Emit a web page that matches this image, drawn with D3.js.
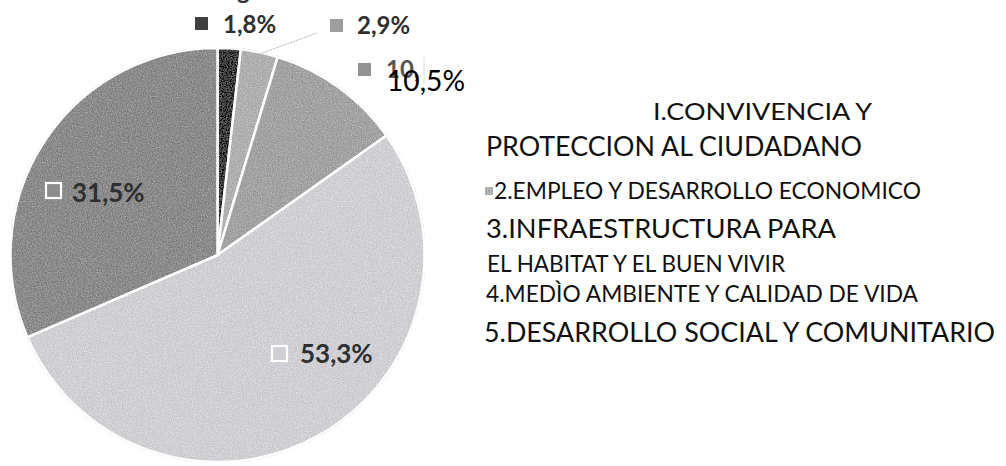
<!DOCTYPE html>
<html>
<head>
<meta charset="utf-8">
<script src="https://cdn.jsdelivr.net/npm/d3@7"></script>
<style>
  html, body { margin: 0; padding: 0; background: #fff; }
  svg { display: block; }
</style>
</head>
<body>
<svg id="chart" width="1006" height="466"></svg>
<script>
// Programme areas, in slice order (clockwise from 12 o'clock)
const categories = [
  "I.CONVIVENCIA Y PROTECCION AL CIUDADANO",
  "2.EMPLEO Y DESARROLLO ECONOMICO",
  "3.INFRAESTRUCTURA PARA EL HABITAT Y EL BUEN VIVIR",
  "4.MEDÌO AMBIENTE Y CALIDAD DE VIDA",
  "5.DESARROLLO SOCIAL Y COMUNITARIO"
];
// Share of the budget, in percent
const values = [1.8, 2.9, 10.5, 53.3, 31.5];
// Legend text, as it is broken into lines
const legendLines = [
  "I.CONVIVENCIA Y",
  "PROTECCION AL CIUDADANO",
  "2.EMPLEO Y DESARROLLO ECONOMICO",
  "3.INFRAESTRUCTURA PARA",
  "EL HABITAT Y EL BUEN VIVIR",
  "4.MEDÌO AMBIENTE Y CALIDAD DE VIDA",
  "5.DESARROLLO SOCIAL Y COMUNITARIO"
];

const svg = d3.select("#chart");

const fills = ["#404040", "#b0b0b0", "#a3a3a3", "#d0d0d4", "#8c8c8c"];
const color = d3.scaleOrdinal().domain(categories).range(fills);

const esLocale = d3.formatLocale({ decimal: ",", thousands: ".", grouping: [3], currency: ["", " €"] });
const pct = v => esLocale.format(".1f")(v) + "%";

// grain filter for the printed texture of the slices (zero-mean noise added to the fill)
const defs = svg.append("defs");
const grain = defs.append("filter").attr("id", "grain")
  .attr("x", 0).attr("y", 0).attr("width", 1).attr("height", 1);
grain.append("feTurbulence").attr("type", "fractalNoise")
  .attr("baseFrequency", 0.8).attr("numOctaves", 2).attr("seed", 7).attr("result", "noise");
grain.append("feColorMatrix").attr("in", "noise").attr("type", "saturate").attr("values", 0).attr("result", "gnoise");
grain.append("feComposite").attr("in", "SourceGraphic").attr("in2", "gnoise")
  .attr("operator", "arithmetic").attr("k1", 0).attr("k2", 1).attr("k3", 0.6).attr("k4", -0.15).attr("result", "mix");
grain.append("feComposite").attr("in", "mix").attr("in2", "SourceGraphic").attr("operator", "in");

// ---- pie ----
const cx = 217.5, cy = 255, R = 207;
const pie = d3.pie().sort(null).value(d => d.value).startAngle(0).endAngle(2 * Math.PI);
const arcs = pie(categories.map((c, i) => ({ cat: c, value: values[i] })));
const arc = d3.arc().innerRadius(0).outerRadius(R);

const g = svg.append("g").attr("transform", `translate(${cx},${cy})`);
g.append("g").attr("filter", "url(#grain)")
  .selectAll("path").data(arcs).join("path")
  .attr("d", arc)
  .attr("fill", d => color(d.data.cat))
  .attr("stroke", "#fff")
  .attr("stroke-width", 2.5)
  .attr("stroke-linejoin", "round");

// ---- data labels ----
// where each label sits: marker square, then the text
const labelLayout = [
  { sx: 195, sy: 17, tx: 223, ty: 33, box: "solid" },
  { sx: 330, sy: 19, tx: 357, ty: 34, box: "solid" },
  { sx: 358, sy: 63, tx: 386, ty: 78, box: "solid" },
  { sx: 272, sy: 346, tx: 300, ty: 363, box: "outline" },
  { sx: 46, sy: 183, tx: 72, ty: 202, box: "outline" }
];

// leader from the thin second slice out to its label
const a1 = arcs[1];
const mid1 = (a1.startAngle + a1.endAngle) / 2;
svg.append("line")
  .attr("x1", cx + Math.sin(mid1) * (R - 2)).attr("y1", cy - Math.cos(mid1) * (R - 2))
  .attr("x2", 317).attr("y2", 33)
  .attr("stroke", "#b4b4b4").attr("stroke-width", 1).attr("stroke-dasharray", "2,1");

const labels = svg.append("g").attr("class", "labels");
arcs.forEach((d, i) => {
  const L = labelLayout[i];
  if (L.box === "solid") {
    labels.append("rect").attr("x", L.sx).attr("y", L.sy).attr("width", 13).attr("height", 13)
      .attr("fill", d3.color(color(d.data.cat)).darker(i === 0 ? 0 : 0.3));
  } else {
    labels.append("rect").attr("x", L.sx).attr("y", L.sy).attr("width", 15).attr("height", 15)
      .attr("fill", color(d.data.cat)).attr("stroke", "#fff").attr("stroke-width", 2.2);
  }
});

labels.selectAll("text.val").data(arcs.filter((d, i) => i !== 2)).join("text")
  .attr("class", "val")
  .attr("x", d => labelLayout[d.index].tx)
  .attr("y", d => labelLayout[d.index].ty)
  .attr("font-family", "Lato, 'Open Sans', sans-serif")
  .attr("font-weight", 700)
  .attr("font-size", d => d.index < 3 ? 24 : 26)
  .attr("fill", "#2f2f2f")
  .text(d => pct(d.data.value));

// third label: the original text is clipped by a pasted box, with the value retyped over it
defs.append("clipPath").attr("id", "cut10")
  .append("rect").attr("x", 380).attr("y", 50).attr("width", 41).attr("height", 40);
labels.append("text")
  .attr("x", labelLayout[2].tx).attr("y", labelLayout[2].ty)
  .attr("clip-path", "url(#cut10)")
  .attr("font-family", "Lato, 'Open Sans', sans-serif")
  .attr("font-weight", 700).attr("font-size", 24).attr("fill", "#555")
  .text(pct(arcs[2].data.value));
labels.append("line").attr("x1", 424).attr("x2", 424).attr("y1", 57).attr("y2", 84)
  .attr("stroke", "#d8d8d8").attr("stroke-width", 1);
labels.append("text")
  .attr("x", 387).attr("y", 91)
  .attr("font-family", "Lato, 'Open Sans', sans-serif")
  .attr("font-size", 29).attr("fill", "#000")
  .attr("textLength", 78).attr("lengthAdjust", "spacingAndGlyphs")
  .text(pct(arcs[2].data.value));

// descender of the title line above the frame
svg.append("text").attr("x", 237).attr("y", -1)
  .attr("font-family", "Lato, sans-serif").attr("font-weight", 700)
  .attr("font-size", 24).attr("fill", "#333").text("g");

// ---- legend ----
// each line: left edge, baseline, nominal size and the width it spans
const legendLayout = [
  { x: 653, y: 120, size: 21, len: 219 },
  { x: 486, y: 156, size: 26, len: 376 },
  { x: 494, y: 199, size: 21, len: 427 },
  { x: 486, y: 238, size: 25, len: 350 },
  { x: 487, y: 272, size: 22, len: 298 },
  { x: 486, y: 302, size: 22, len: 432 },
  { x: 484, y: 342, size: 29, len: 511 }
];
const legend = svg.append("g").attr("class", "legend");
legend.append("rect").attr("x", 485).attr("y", 187).attr("width", 8).attr("height", 8)
  .attr("fill", color(categories[1])).attr("filter", "url(#grain)");
const legendText = legend.selectAll("text").data(legendLines).join("text")
  .attr("x", (d, i) => legendLayout[i].x)
  .attr("y", (d, i) => legendLayout[i].y)
  .attr("font-family", "Lato, 'Open Sans', sans-serif")
  .attr("font-size", (d, i) => legendLayout[i].size)
  .attr("fill", "#111")
  .text(d => d);
// grow each line toward its natural width first, then fit the rest exactly
legendText.each(function (d, i) {
  const L = legendLayout[i];
  const natural = this.getComputedTextLength();
  const fitted = L.size * L.len / natural;
  const size = Math.max(L.size * 0.95, Math.min(fitted, L.size * 1.12));
  d3.select(this).attr("font-size", size)
    .attr("textLength", L.len).attr("lengthAdjust", "spacingAndGlyphs");
});
</script>
</body>
</html>
